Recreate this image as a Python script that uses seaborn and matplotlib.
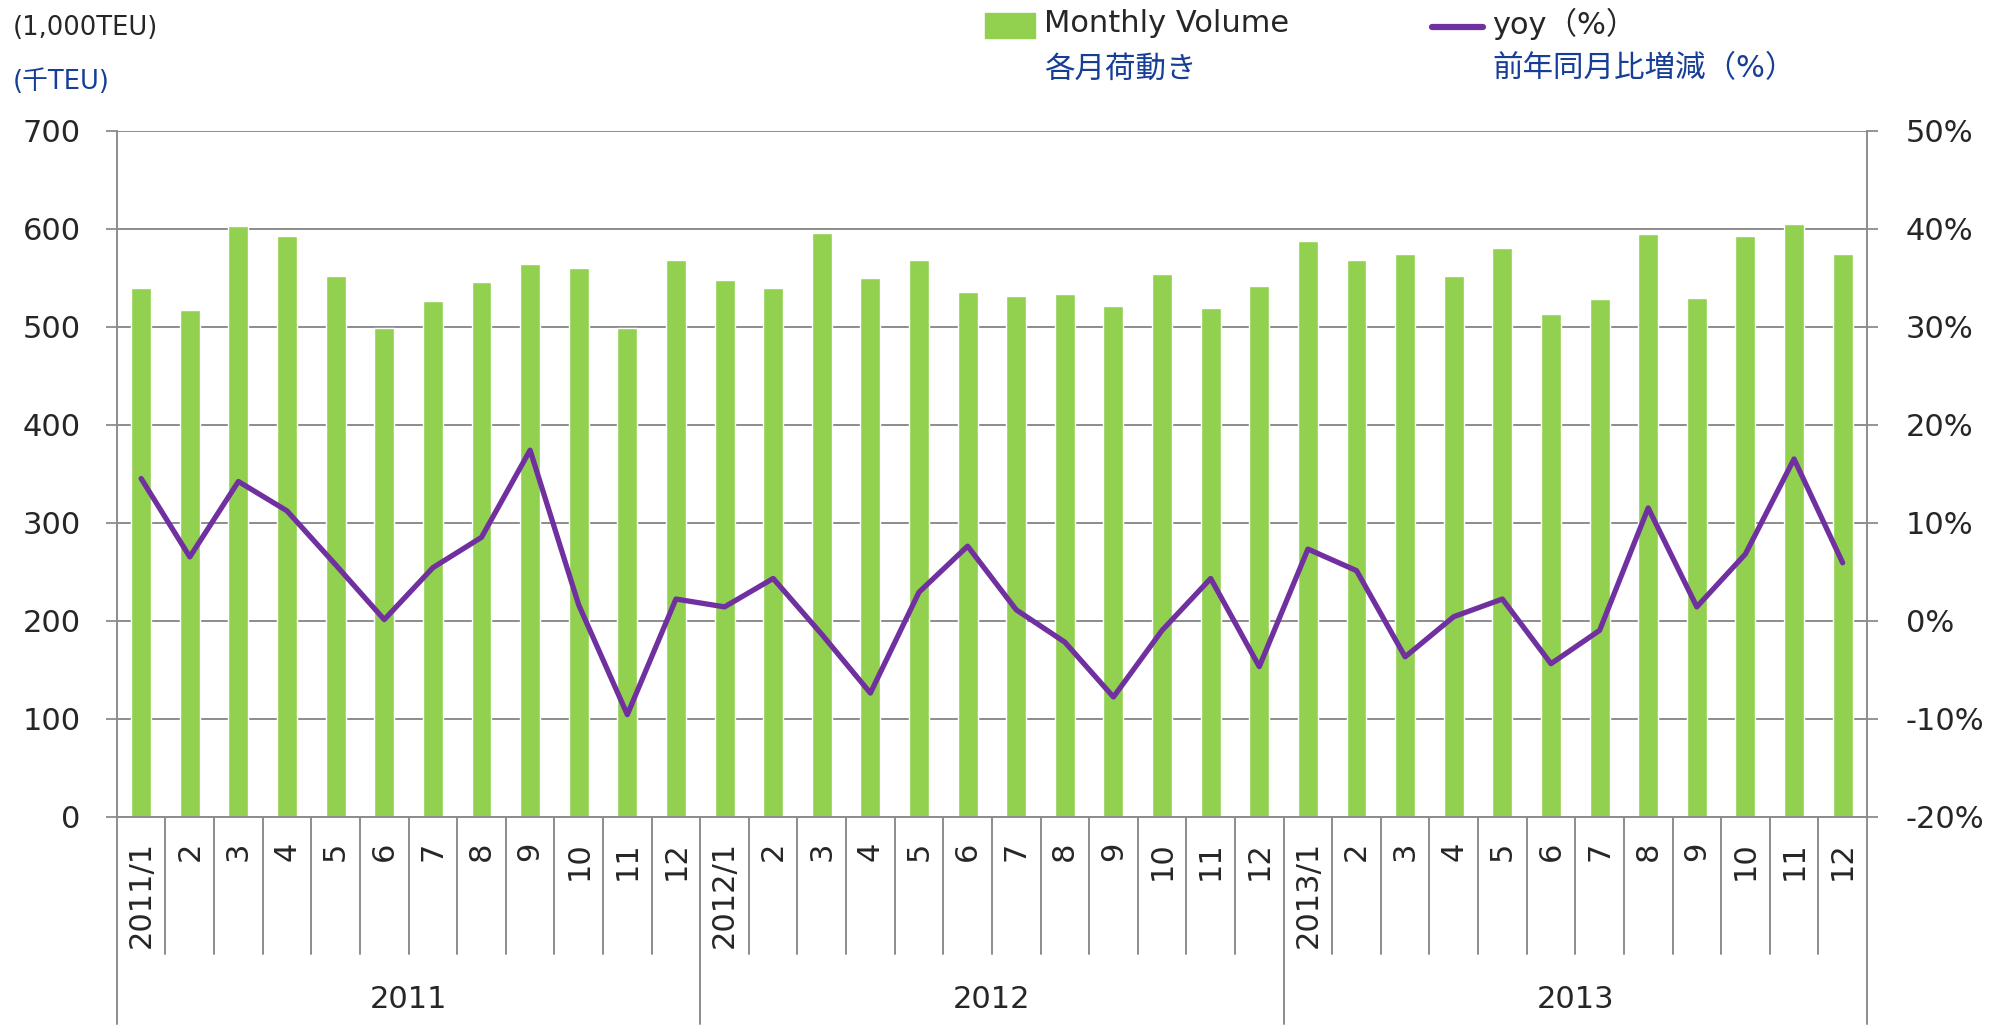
import numpy as np
import pandas as pd
import matplotlib
matplotlib.use('Agg')
import matplotlib.pyplot as plt
import seaborn as sns
from matplotlib.patches import Rectangle
from matplotlib.lines import Line2D

# --- data ---
years = ['2011', '2012', '2013']
month_labels = ['2011/1', '2', '3', '4', '5', '6', '7', '8', '9', '10', '11', '12',
                '2012/1', '2', '3', '4', '5', '6', '7', '8', '9', '10', '11', '12',
                '2013/1', '2', '3', '4', '5', '6', '7', '8', '9', '10', '11', '12']
# monthly volume (1,000TEU)
volume = [540, 517, 603, 593, 552, 499, 526, 546, 564, 560, 499, 568,
          548, 540, 596, 550, 568, 535, 531, 533, 521, 554, 519, 542,
          588, 568, 574, 552, 580, 513, 528, 595, 529, 593, 605, 574]
# yoy (%)
yoy = [14.5, 6.5, 14.2, 11.2, 5.7, 0.1, 5.4, 8.5, 17.4, 1.6, -9.6, 2.2,
       1.4, 4.3, -1.4, -7.4, 2.9, 7.6, 1.1, -2.2, -7.8, -1.0, 4.3, -4.7,
       7.3, 5.1, -3.7, 0.4, 2.2, -4.4, -1.0, 11.5, 1.4, 6.8, 16.5, 5.9]

GREEN = '#92D050'
PURPLE = '#7030A0'
BLUE = '#163E96'
GRID = '#8C8C8C'
FS = 22

sns.set_theme(style='white')
plt.rcParams['font.family'] = ['DejaVu Sans', 'Noto Sans CJK JP']
plt.rcParams['axes.unicode_minus'] = False

df = pd.DataFrame({'idx': range(len(volume)), 'volume': volume, 'yoy': yoy})

fig = plt.figure(figsize=(19.91, 10.25), dpi=100)
ax = fig.add_axes([0.0587, 0.2034, 0.879, 0.669])

# bars
sns.barplot(data=df, x='idx', y='volume', color=GREEN, saturation=1,
            width=0.41, ax=ax, zorder=2)
ax.set_ylim(0, 700)
ax.set_yticks(range(0, 701, 100))
ax.set_xlim(-0.5, len(volume) - 0.5)
ax.set_xticks([])
ax.set_xlabel('')
ax.set_ylabel('')
ax.grid(axis='y', color=GRID, lw=1.4)
ax.set_axisbelow(True)
ax.tick_params(axis='y', direction='out', length=8, width=1.3, color=GRID,
               labelsize=FS, pad=18, left=True)
for s in ['top', 'right']:
    ax.spines[s].set_visible(False)
for s in ['left', 'bottom']:
    ax.spines[s].set_color(GRID)
    ax.spines[s].set_linewidth(1.4)

# yoy line on secondary axis
ax2 = ax.twinx()
sns.lineplot(data=df, x='idx', y='yoy', color=PURPLE, linewidth=3.8, ax=ax2)
ax2.set_ylim(-20, 50)
ax2.set_yticks(range(-20, 51, 10))
ax2.set_yticklabels([f'{v}%' for v in range(-20, 51, 10)])
ax2.set_xlim(-0.5, len(volume) - 0.5)
ax2.set_xlabel('')
ax2.set_ylabel('')
ax2.tick_params(axis='y', direction='out', length=8, width=1.3, color=GRID,
                labelsize=FS, pad=20, right=True)
for s in ['top', 'left', 'bottom']:
    ax2.spines[s].set_visible(False)
ax2.spines['right'].set_color(GRID)
ax2.spines['right'].set_linewidth(1.4)

# multi-level category axis
trans = ax.get_xaxis_transform()
for i in range(len(volume) + 1):
    ymin = -0.3033 if i % 12 == 0 else -0.2005
    ax.plot([i - 0.5, i - 0.5], [0, ymin], transform=trans, clip_on=False,
            color=GRID, lw=1.4)
for i, lbl in enumerate(month_labels):
    ax.text(i, -0.036, lbl, rotation=90, ha='center', va='top',
            transform=trans, fontsize=FS)
for k, yr in enumerate(years):
    ax.text(12 * k + 5.5, -0.267, yr, ha='center', va='center',
            transform=trans, fontsize=FS)

# legend / headers
fig.patches.append(Rectangle((0.4947, 0.9629), 0.0251, 0.0244,
                             transform=fig.transFigure, color=GREEN))
fig.text(0.5244, 0.9766, 'Monthly Volume', va='center', fontsize=FS)
fig.text(0.5244, 0.9327, '各月荷動き', va='center', fontsize=FS, color=BLUE)
fig.lines.append(Line2D([0.7192, 0.7449], [0.9737, 0.9737],
                        transform=fig.transFigure, color=PURPLE, lw=4.5))
fig.text(0.7494, 0.9766, 'yoy（%）', va='center', fontsize=FS)
fig.text(0.7494, 0.9327, '前年同月比増減（%）', va='center', fontsize=FS, color=BLUE)

fig.text(0.0065, 0.9727, '(1,000TEU)', va='center', fontsize=18.5)
fig.text(0.0065, 0.92, '(千TEU)', va='center', fontsize=18.5, color=BLUE)

fig.savefig('out.png', dpi=100)
